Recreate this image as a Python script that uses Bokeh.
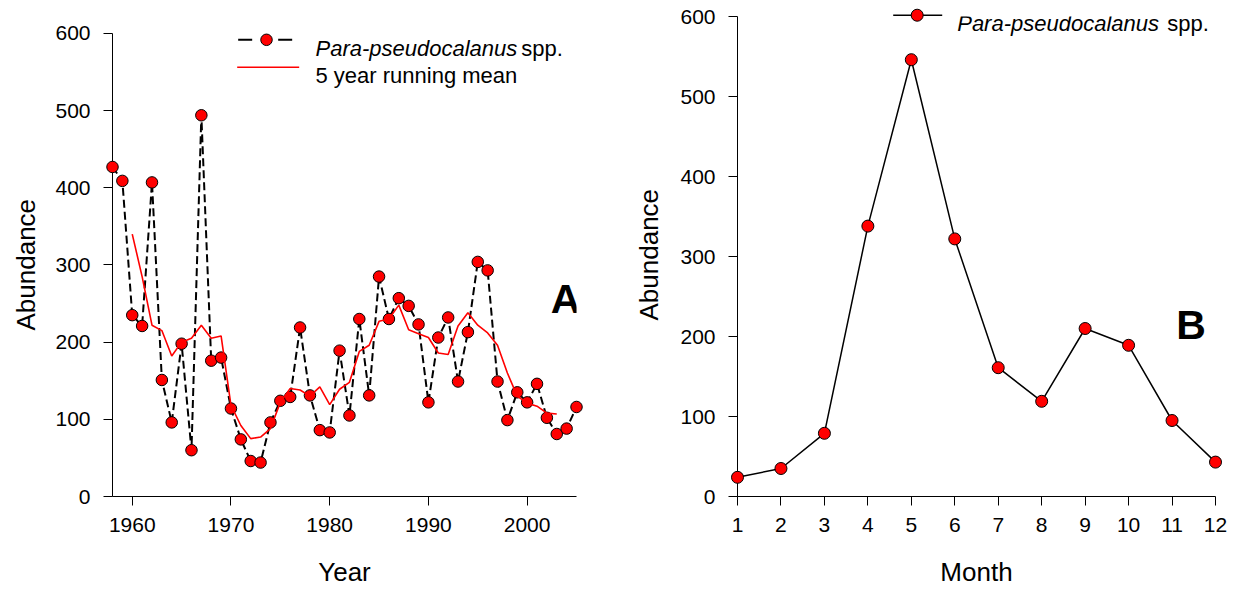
from bokeh.plotting import figure
from bokeh.layouts import row
from bokeh.models import Range1d, FixedTicker, Label, Title
from bokeh.embed import file_html
from bokeh.resources import INLINE

# ---------------- data ----------------
years = list(range(1958, 2006))
abundance = [427, 409, 235, 221, 407, 151, 96, 198, 60, 494,
             176, 180, 114, 74, 46, 44, 96, 124, 129, 219,
             131, 86, 83, 189, 105, 230, 131, 285, 230, 257,
             247, 223, 122, 206, 232, 149, 213, 304, 293, 149,
             99, 135, 122, 146, 102, 81, 88, 116]

rm_years = list(range(1960, 2004))
running_mean = [340, 285, 222, 215, 182, 200, 205, 222, 205, 208,
                118, 92, 75, 77, 88, 122, 140, 138, 130, 142,
                119, 139, 148, 188, 196, 227, 230, 248, 216, 211,
                206, 186, 184, 221, 238, 222, 212, 196, 160, 130,
                121, 117, 108, 107]

months = list(range(1, 13))
monthly = [24, 35, 79, 338, 546, 322, 161, 119, 210, 189, 95, 43]

year_ticks = [1960, 1970, 1980, 1990, 2000]
abund_ticks = [0, 100, 200, 300, 400, 500, 600]
species_italic = "Para-pseudocalanus"
species_suffix = "spp."
mean_label = "5 year running mean"
y_title = "Abundance"

FONT = "Liberation Sans"


def style(p, xlabel, xticks, yticks):
    p.xgrid.visible = False
    p.ygrid.visible = False
    p.outline_line_color = None
    p.background_fill_color = "white"
    p.border_fill_color = "white"
    p.xaxis.ticker = FixedTicker(ticks=xticks)
    p.yaxis.ticker = FixedTicker(ticks=yticks)
    for ax in (p.xaxis, p.yaxis):
        ax.axis_line_color = "black"
        ax.axis_line_width = 1
        ax.major_tick_line_color = "black"
        ax.major_tick_out = 9
        ax.major_tick_in = 0
        ax.minor_tick_out = 0
        ax.minor_tick_in = 0
        ax.major_label_text_font = FONT
        ax.major_label_text_font_size = "21px"
        ax.major_label_text_color = "black"
        ax.axis_label_text_font = FONT
        ax.axis_label_text_font_size = "26px"
        ax.axis_label_text_font_style = "normal"
        ax.axis_label_text_color = "black"
    p.xaxis.axis_label = xlabel
    p.xaxis.major_label_standoff = 12
    p.xaxis.axis_label_standoff = 22
    p.yaxis.major_label_standoff = 13
    p.yaxis.bounds = (0, 600)


def ytitle(p, offset, standoff):
    p.add_layout(Title(text=y_title, align="left", vertical_align="top",
                       offset=offset, standoff=standoff, text_font=FONT,
                       text_font_size="26px", text_font_style="normal",
                       text_color="black"), "left")


# ---------------- panel A ----------------
p1 = figure(frame_width=464, frame_height=480,
            min_border_left=112, min_border_right=44,
            min_border_top=16, min_border_bottom=98,
            x_range=Range1d(1958, 2005), y_range=Range1d(0, 622),
            output_backend="svg", toolbar_location=None)
style(p1, "Year", year_ticks, abund_ticks)
ytitle(p1, 166, 19)

p1.line(years, abundance, line_color="black", line_width=2,
        line_dash="8 4", level="overlay")
p1.scatter(years, abundance, size=11.5, fill_color="#ff0000",
           line_color="black", line_width=1, level="overlay")
p1.line(rm_years, running_mean, line_color="#ff0000", line_width=1.6,
        level="overlay")

# legend A (layout positions in data units)
p1.segment(x0=[1970.73], y0=[591.8], x1=[1976.30], y1=[591.8],
           line_color="black", line_width=2, line_dash="14 26",
           level="overlay")
p1.scatter([1973.6], [591.8], size=11.5, fill_color="#ff0000",
           line_color="black", line_width=1, level="overlay")
p1.segment(x0=[1970.63], y0=[556.3], x1=[1976.91], y1=[556.3],
           line_color="#ff0000", line_width=1.6, level="overlay")
p1.add_layout(Label(x=1978.56, y=580.2, text=species_italic,
                    text_font=FONT, text_font_size="22px",
                    text_font_style="italic", text_color="black",
                    text_baseline="alphabetic"))
p1.add_layout(Label(x=1999.4, y=580.2, text=species_suffix,
                    text_font=FONT, text_font_size="22px",
                    text_color="black", text_baseline="alphabetic"))
p1.add_layout(Label(x=1978.56, y=545.6, text=mean_label,
                    text_font=FONT, text_font_size="22px",
                    text_color="black", text_baseline="alphabetic"))
p1.add_layout(Label(x=2005.4, y=255.3, text="A", text_font=FONT,
                    text_font_size="41px", text_font_style="bold",
                    text_color="black", text_align="right",
                    text_baseline="alphabetic"))

# ---------------- panel B ----------------
p2 = figure(frame_width=478, frame_height=480,
            min_border_left=117, min_border_right=23,
            min_border_top=16, min_border_bottom=98,
            x_range=Range1d(1, 12), y_range=Range1d(0, 600),
            output_backend="svg", toolbar_location=None)
style(p2, "Month", months, abund_ticks)
ytitle(p2, 176, 24)

p2.line(months, monthly, line_color="black", line_width=1.5,
        level="overlay")
p2.scatter(months, monthly, size=12, fill_color="#ff0000",
           line_color="black", line_width=1, level="overlay")

# legend B
p2.segment(x0=[4.583], y0=[601.6], x1=[5.711], y1=[601.6],
           line_color="black", line_width=1.5, level="overlay")
p2.scatter([5.135], [601.6], size=12, fill_color="#ff0000",
           line_color="black", line_width=1, level="overlay")
p2.add_layout(Label(x=6.056, y=591.6, text=species_italic,
                    text_font=FONT, text_font_size="22px",
                    text_font_style="italic", text_color="black",
                    text_baseline="alphabetic"))
p2.add_layout(Label(x=10.89, y=591.6, text=species_suffix,
                    text_font=FONT, text_font_size="22px",
                    text_color="black", text_baseline="alphabetic"))
p2.add_layout(Label(x=11.78, y=214.6, text="B", text_font=FONT,
                    text_font_size="41px", text_font_style="bold",
                    text_color="black", text_align="right",
                    text_baseline="alphabetic"))

layout = row(p1, p2)
open("out.html", "w").write(file_html(layout, INLINE))
